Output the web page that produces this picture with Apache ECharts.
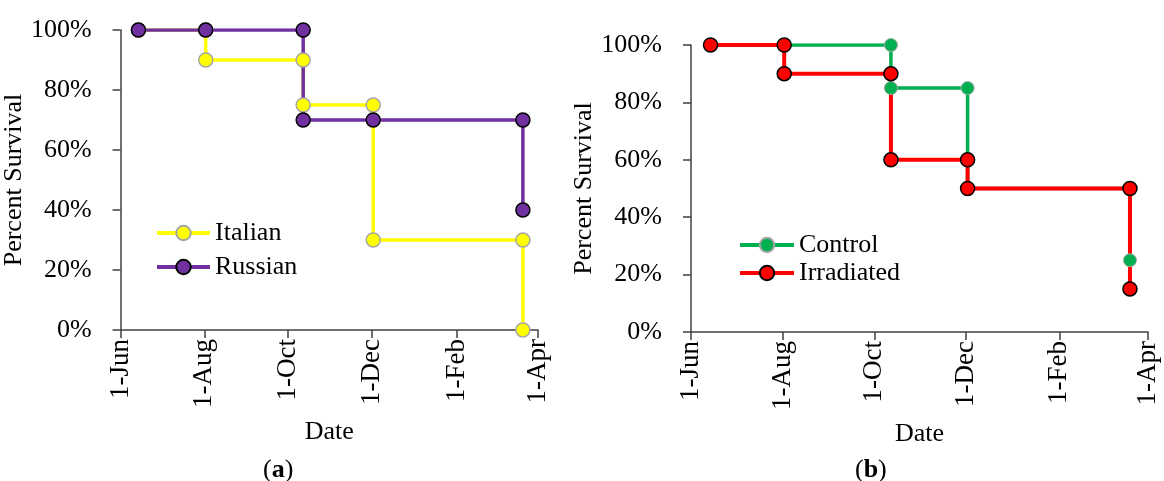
<!DOCTYPE html>
<html><head><meta charset="utf-8">
<script src="https://cdn.jsdelivr.net/npm/echarts@6/dist/echarts.min.js"></script>
<style>html,body{margin:0;padding:0;background:#fff}#c{width:1164px;height:481px}</style>
</head><body><div id="c"></div>
<script>
// ---- data ----
const baseDate = '2018-06-01';
const tickDates = ['2018-06-01','2018-08-01','2018-10-01','2018-12-01','2019-02-01','2019-04-01'];
const tickLabels = ['1-Jun','1-Aug','1-Oct','1-Dec','1-Feb','1-Apr'];

const italianDates = ['2018-06-14','2018-08-02','2018-08-02','2018-10-12','2018-10-12','2018-12-02','2018-12-02','2019-03-21','2019-03-21'];
const italianSurvival = [100,100,90,90,75,75,30,30,0];
const russianDates = ['2018-06-14','2018-08-02','2018-10-12','2018-10-12','2018-12-02','2019-03-21','2019-03-21'];
const russianSurvival = [100,100,100,70,70,70,40];

const controlDates = ['2018-06-14','2018-08-02','2018-10-12','2018-10-12','2018-12-02','2018-12-02','2019-03-20','2019-03-20'];
const controlSurvival = [100,100,100,85,85,50,50,25];
const irradiatedDates = ['2018-06-14','2018-08-02','2018-08-02','2018-10-12','2018-10-12','2018-12-02','2018-12-02','2019-03-20','2019-03-20'];
const irradiatedSurvival = [100,100,90,90,60,60,50,50,15];

// ---- helpers ----
function dayOffset(s){ return Math.round((Date.parse(s+'T00:00:00Z') - Date.parse(baseDate+'T00:00:00Z'))/86400000); }
const tickOffsets = tickDates.map(dayOffset);
function pairs(ds, vs){ return ds.map((d,i)=>[dayOffset(d), vs[i]]); }

const FONT = 'Liberation Serif';
const TXT = '#000';
const AXC = '#404040';

function xAxisDef(gi){
  return {
    type:'value', gridIndex:gi, min:tickOffsets[0], max:tickOffsets[tickOffsets.length-1],
    name:'Date', nameLocation:'middle', nameGap:89,
    nameTextStyle:{fontFamily:FONT,fontSize:26,color:TXT},
    axisLine:{show:true,lineStyle:{color:AXC,width:1.5}},
    axisTick:{show:true,length:8,lineStyle:{color:AXC,width:1.5},customValues:tickOffsets},
    axisLabel:{rotate:90,margin:9,fontFamily:FONT,fontSize:27,color:TXT,customValues:tickOffsets,
      formatter:(v)=>{const i=tickOffsets.indexOf(v);return i>=0?tickLabels[i]:'';}},
    splitLine:{show:false}
  };
}
function yAxisDef(gi, gap){
  return {
    type:'value', gridIndex:gi, min:0, max:100, interval:20,
    name:'Percent Survival', nameLocation:'middle', nameGap:gap,
    nameTextStyle:{fontFamily:FONT,fontSize:26,color:TXT},
    axisLine:{show:true,lineStyle:{color:AXC,width:1.5}},
    axisTick:{show:true,length:8,lineStyle:{color:AXC,width:1.5}},
    axisLabel:{margin:29,fontFamily:FONT,fontSize:26,color:TXT,formatter:'{value}%'},
    splitLine:{show:false}
  };
}
function lineSeries(name, data, gi, color, lw, symColor, border, bw, size){
  return {
    name, type:'line', xAxisIndex:gi, yAxisIndex:gi, data,
    symbol:'circle', symbolSize:size, showAllSymbol:true,
    lineStyle:{color, width:lw},
    itemStyle:{color:symColor, borderColor:border, borderWidth:bw},
    emphasis:{disabled:true}
  };
}

const chart = echarts.init(document.getElementById('c'));
chart.setOption({
  animation:false,
  backgroundColor:'#fff',
  grid:[
    {left:117, top:30, width:421, height:300},
    {left:691, top:45, width:457, height:287}
  ],
  xAxis:[xAxisDef(0), xAxisDef(1)],
  yAxis:[yAxisDef(0, 74), yAxisDef(1, 71)],
  legend:[
    {data:['Italian','Russian'], orient:'vertical', left:155, top:220, padding:0, itemWidth:53, itemHeight:18, itemGap:8,
     lineStyle:{width:4}, textStyle:{fontFamily:FONT,fontSize:26,color:TXT}},
    {data:['Control','Irradiated'], orient:'vertical', left:738, top:232, padding:0, itemWidth:54, itemHeight:18, itemGap:2,
     lineStyle:{width:4}, textStyle:{fontFamily:FONT,fontSize:26,color:TXT}}
  ],
  title:[
    {text:'({b|a})', left:263, top:457, padding:0, textStyle:{fontFamily:FONT,fontSize:26,fontWeight:'normal',color:TXT,
      rich:{b:{fontFamily:FONT,fontSize:26,fontWeight:'bold',color:TXT}}}},
    {text:'({b|b})', left:855, top:457, padding:0, textStyle:{fontFamily:FONT,fontSize:26,fontWeight:'normal',color:TXT,
      rich:{b:{fontFamily:FONT,fontSize:26,fontWeight:'bold',color:TXT}}}}
  ],
  series:[
    lineSeries('Italian', pairs(italianDates, italianSurvival), 0, '#FFFF00', 3.5, '#FFFF00', '#A6A6A6', 1.5, 14),
    lineSeries('Russian', pairs(russianDates, russianSurvival), 0, '#7030A0', 3.5, '#7030A0', '#000000', 1.5, 14),
    lineSeries('Control', pairs(controlDates, controlSurvival), 1, '#00B050', 3.5, '#00B050', '#A6A6A6', 1, 13),
    lineSeries('Irradiated', pairs(irradiatedDates, irradiatedSurvival), 1, '#FF0000', 4, '#FF0000', '#000000', 1.5, 14)
  ]
});
</script>
</body></html>
